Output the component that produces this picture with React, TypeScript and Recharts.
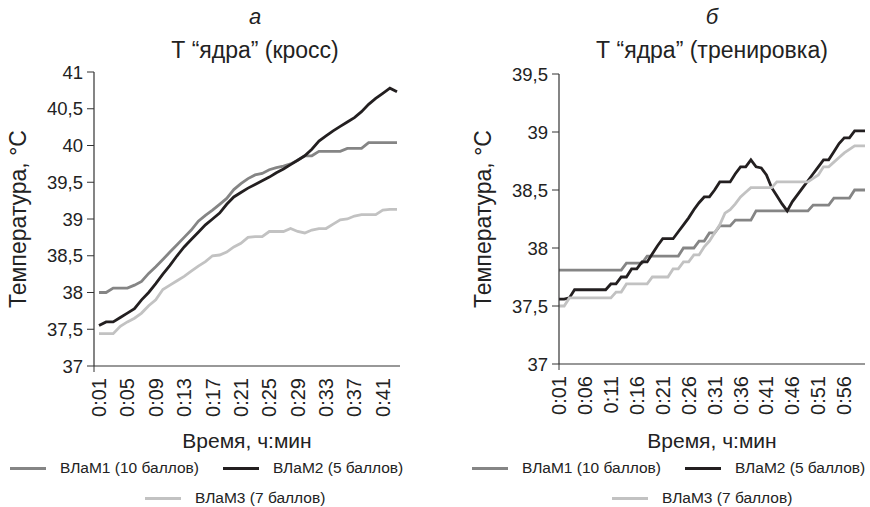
import React from 'react';
import { LineChart, Line, XAxis, YAxis } from 'recharts';

// категории (время, ч:мин)
const crossTime = [
  '0:01', '0:02', '0:03', '0:04', '0:05', '0:06', '0:07', '0:08', '0:09', '0:10',
  '0:11', '0:12', '0:13', '0:14', '0:15', '0:16', '0:17', '0:18', '0:19', '0:20',
  '0:21', '0:22', '0:23', '0:24', '0:25', '0:26', '0:27', '0:28', '0:29', '0:30',
  '0:31', '0:32', '0:33', '0:34', '0:35', '0:36', '0:37', '0:38', '0:39', '0:40',
  '0:41', '0:42', '0:43',
];

const trainTime = [
  '0:01', '0:02', '0:03', '0:04', '0:05', '0:06', '0:07', '0:08', '0:09', '0:10',
  '0:11', '0:12', '0:13', '0:14', '0:15', '0:16', '0:17', '0:18', '0:19', '0:20',
  '0:21', '0:22', '0:23', '0:24', '0:25', '0:26', '0:27', '0:28', '0:29', '0:30',
  '0:31', '0:32', '0:33', '0:34', '0:35', '0:36', '0:37', '0:38', '0:39', '0:40',
  '0:41', '0:42', '0:43', '0:44', '0:45', '0:46', '0:47', '0:48', '0:49', '0:50',
  '0:51', '0:52', '0:53', '0:54', '0:55', '0:56', '0:57', '0:58', '0:59', '1:00',
];

// кросс
const crossVlam1 = [
  38.0, 38.0, 38.06, 38.06, 38.06, 38.1, 38.15, 38.26, 38.35, 38.45,
  38.55, 38.65, 38.75, 38.85, 38.97, 39.05, 39.12, 39.2, 39.28, 39.4,
  39.48, 39.55, 39.6, 39.62, 39.67, 39.7, 39.72, 39.75, 39.8, 39.86,
  39.86, 39.92, 39.92, 39.92, 39.92, 39.96, 39.96, 39.96, 40.04, 40.04,
  40.04, 40.04, 40.04,
];
const crossVlam2 = [
  37.55, 37.6, 37.6, 37.66, 37.72, 37.78, 37.9, 38.0, 38.12, 38.25,
  38.37, 38.5, 38.62, 38.72, 38.82, 38.92, 39.0, 39.08, 39.2, 39.3,
  39.36, 39.42, 39.47, 39.52, 39.57, 39.63, 39.68, 39.74, 39.8, 39.86,
  39.95, 40.06, 40.13, 40.2, 40.26, 40.32, 40.38, 40.46, 40.56, 40.64,
  40.71, 40.78, 40.73,
];
const crossVlam3 = [
  37.44, 37.44, 37.44, 37.54, 37.6, 37.65, 37.72, 37.82, 37.9, 38.04,
  38.1, 38.16, 38.22, 38.29, 38.36, 38.42, 38.5, 38.51, 38.55, 38.62,
  38.67, 38.75, 38.76, 38.76, 38.83, 38.83, 38.83, 38.87, 38.83, 38.81,
  38.85, 38.87, 38.87, 38.93, 38.99, 39.0, 39.04, 39.06, 39.06, 39.06,
  39.12, 39.13, 39.13,
];

// тренировка
const trainVlam1 = [
  37.81, 37.81, 37.81, 37.81, 37.81, 37.81, 37.81, 37.81, 37.81, 37.81,
  37.81, 37.81, 37.81, 37.87, 37.87, 37.87, 37.87, 37.93, 37.93, 37.93,
  37.93, 37.93, 37.93, 37.93, 38.0, 38.0, 38.0, 38.06, 38.06, 38.13,
  38.13, 38.19, 38.19, 38.19, 38.24, 38.24, 38.24, 38.24, 38.32, 38.32,
  38.32, 38.32, 38.32, 38.32, 38.32, 38.32, 38.32, 38.32, 38.32, 38.37,
  38.37, 38.37, 38.37, 38.43, 38.43, 38.43, 38.43, 38.5, 38.5, 38.5,
];
const trainVlam2 = [
  37.56, 37.56, 37.57, 37.64, 37.64, 37.64, 37.64, 37.64, 37.64, 37.64,
  37.69, 37.69, 37.75, 37.75, 37.82, 37.82, 37.88, 37.88, 37.95, 38.02,
  38.08, 38.08, 38.08, 38.14, 38.2, 38.26, 38.33, 38.39, 38.44, 38.44,
  38.5, 38.57, 38.57, 38.57, 38.64, 38.7, 38.7, 38.76, 38.7, 38.69,
  38.63, 38.52, 38.45, 38.38, 38.32, 38.4, 38.46, 38.52, 38.58, 38.64,
  38.7, 38.76, 38.76, 38.83, 38.9, 38.95, 38.95, 39.01, 39.01, 39.01,
];
const trainVlam3 = [
  37.5, 37.5, 37.57, 37.57, 37.57, 37.57, 37.57, 37.57, 37.57, 37.57,
  37.57, 37.62, 37.62, 37.69, 37.69, 37.69, 37.69, 37.69, 37.75, 37.75,
  37.75, 37.75, 37.82, 37.82, 37.88, 37.88, 37.94, 37.94, 38.01, 38.06,
  38.13, 38.2, 38.3, 38.33, 38.38, 38.44, 38.48, 38.52, 38.52, 38.52,
  38.52, 38.52, 38.57, 38.57, 38.57, 38.57, 38.57, 38.57, 38.57, 38.6,
  38.63, 38.7, 38.7, 38.74, 38.78, 38.82, 38.85, 38.88, 38.88, 38.88,
];

const crossTicks = [37, 37.5, 38, 38.5, 39, 39.5, 40, 40.5, 41];
const trainTicks = [37, 37.5, 38, 38.5, 39, 39.5];

const seriesNames = ['ВЛаМ1 (10 баллов)', 'ВЛаМ2 (5 баллов)', 'ВЛаМ3 (7 баллов)'];
const colors = ['#858585', '#231f20', '#c2c2c2'];

const crossData = crossTime.map((t, i) => ({ t, v1: crossVlam1[i], v2: crossVlam2[i], v3: crossVlam3[i] }));
const trainData = trainTime.map((t, i) => ({ t, v1: trainVlam1[i], v2: trainVlam2[i], v3: trainVlam3[i] }));

const FONT = '"Liberation Sans", Arial, sans-serif';
const AXIS = '#333';
const TEXT = '#222';

const fmt = (v: number) => String(v).replace('.', ',');

const RotTick = (props: any) => {
  const { x, y, payload, index } = props;
  return (
    <g>
      {/* excel leaves a single tick under the origin */}
      {index === 0 && props.first && <line x1={props.first} x2={props.first} y1={y - 12} y2={y - 6} stroke={AXIS} />}
      <text x={x} y={y} transform={`rotate(-90 ${x} ${y})`} textAnchor="end" dominantBaseline="central"
        fontSize={20} fill={TEXT} fontFamily={FONT}>
        {payload.value}
      </text>
    </g>
  );
};

const yTitle = (dx: number) => (props: any) => {
  const { viewBox } = props;
  const cx = dx;
  const cy = viewBox.y + viewBox.height / 2;
  return (
    <text x={cx} y={cy} transform={`rotate(-90 ${cx} ${cy})`} textAnchor="middle" dominantBaseline="central"
      fontSize={23} fill={TEXT} fontFamily={FONT}>
      Температура, °С
    </text>
  );
};

const xTitle = (dy: number) => (props: any) => {
  const { viewBox } = props;
  return (
    <text x={viewBox.x + viewBox.width / 2} y={viewBox.y + dy} textAnchor="middle" dominantBaseline="central"
      fontSize={21} fill={TEXT} fontFamily={FONT}>
      Время, ч:мин
    </text>
  );
};

const LegendItem = ({ idx }: { idx: number }) => (
  <div style={{ display: 'flex', alignItems: 'center', marginRight: 24 }}>
    <div style={{ width: 36, height: 3, background: colors[idx], marginRight: 14 }} />
    <span>{seriesNames[idx]}</span>
  </div>
);

const ChartLegend = ({ left, left2 }: { left: number; left2: number }) => (
  <>
    <div style={{ position: 'absolute', left, top: 458, display: 'flex', fontSize: 15.5, color: TEXT, lineHeight: '20px', whiteSpace: 'nowrap' }}>
      <LegendItem idx={0} />
      <LegendItem idx={1} />
    </div>
    <div style={{ position: 'absolute', left: left2, top: 488, display: 'flex', fontSize: 15.5, color: TEXT, lineHeight: '20px', whiteSpace: 'nowrap' }}>
      <LegendItem idx={2} />
    </div>
  </>
);

const Title = ({ cx, letter, text }: { cx: number; letter: string; text: string }) => (
  <>
    <div style={{ position: 'absolute', left: cx - 100, width: 200, top: 7, textAlign: 'center', fontSize: 22, fontStyle: 'italic', lineHeight: '20px' }}>
      {letter}
    </div>
    <div style={{ position: 'absolute', left: cx - 150, width: 300, top: 40, textAlign: 'center', fontSize: 23, lineHeight: '20px' }}>
      {text}
    </div>
  </>
);

export default function App() {
  return (
    <div style={{ position: 'absolute', left: 0, top: 0, width: 870, height: 507, background: '#fff', fontFamily: FONT, color: TEXT, overflow: 'hidden' }}>
      <Title cx={255} letter="а" text="Т “ядра” (кросс)" />
      <Title cx={712} letter="б" text="Т “ядра” (тренировка)" />

      <div style={{ position: 'absolute', left: 0, top: 0 }}>
        <LineChart width={435} height={507} data={crossData} margin={{ top: 72, right: 35, bottom: 61, left: 0 }}>
          <XAxis dataKey="t" interval={3} padding={{ left: 5, right: 3 }} tickLine={false} tickSize={0} tickMargin={12}
            tick={<RotTick first={94} />} axisLine={{ stroke: AXIS, strokeWidth: 1.2 }} height={80} label={{ content: xTitle(74) }} />
          <YAxis domain={[37, 41]} ticks={crossTicks} tickFormatter={fmt} width={94} tickSize={7} tickMargin={4}
            tick={{ fontSize: 18.5, fill: TEXT, fontFamily: FONT }} axisLine={{ stroke: AXIS, strokeWidth: 1.2 }}
            tickLine={{ stroke: AXIS }} label={{ content: yTitle(18) }} />
          {['v1', 'v2', 'v3'].map((k, i) => (
            <Line key={k} type="linear" dataKey={k} name={seriesNames[i]} stroke={colors[i]} strokeWidth={2.8}
              dot={false} isAnimationActive={false} />
          ))}
        </LineChart>
      </div>

      <div style={{ position: 'absolute', left: 435, top: 0 }}>
        <LineChart width={435} height={507} data={trainData} margin={{ top: 74, right: 5, bottom: 63, left: 0 }}>
          <XAxis dataKey="t" interval={4} tickLine={false} tickSize={0} tickMargin={12}
            tick={<RotTick first={124} />} axisLine={{ stroke: AXIS, strokeWidth: 1.2 }} height={80} label={{ content: xTitle(76) }} />
          <YAxis domain={[37, 39.5]} ticks={trainTicks} tickFormatter={fmt} width={124} tickSize={7} tickMargin={4}
            tick={{ fontSize: 18.5, fill: TEXT, fontFamily: FONT }} axisLine={{ stroke: AXIS, strokeWidth: 1.2 }}
            tickLine={{ stroke: AXIS }} label={{ content: yTitle(48) }} />
          {['v1', 'v2', 'v3'].map((k, i) => (
            <Line key={k} type="linear" dataKey={k} name={seriesNames[i]} stroke={colors[i]} strokeWidth={2.8}
              dot={false} isAnimationActive={false} />
          ))}
        </LineChart>
      </div>

      <ChartLegend left={10} left2={145} />
      <ChartLegend left={472} left2={612} />
    </div>
  );
}
